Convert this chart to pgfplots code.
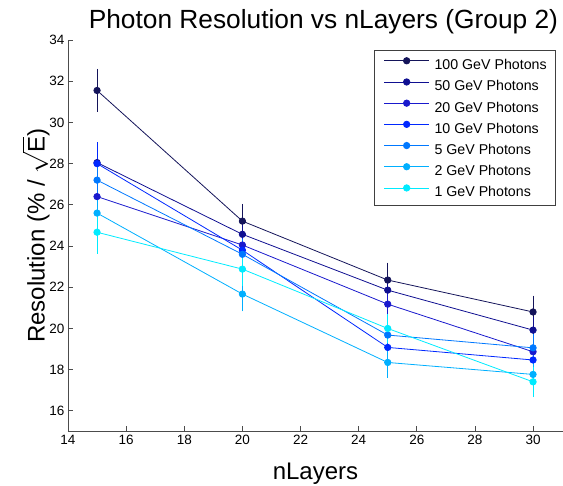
\documentclass[border=0pt]{standalone}
\usepackage{pgfplots}
\pgfplotsset{compat=1.18}
\usepackage{fontspec}
\setmainfont{Liberation Sans}
\definecolor{cA}{RGB}{20,20,90}
\definecolor{cB}{RGB}{15,15,145}
\definecolor{cC}{RGB}{25,25,205}
\definecolor{cD}{RGB}{0,40,255}
\definecolor{cE}{RGB}{0,120,255}
\definecolor{cF}{RGB}{0,175,255}
\definecolor{cG}{RGB}{0,235,255}
\pgfplotsset{
  ser/.style={color=#1, mark=*, mark size=3.2pt, line width=0.8pt,
    error bars/y dir=both, error bars/y explicit,
    error bars/error bar style={line width=0.8pt, color=#1},
    error bars/error mark options={mark size=5pt, line width=0.8pt, color=#1}}
}
\begin{document}
\begin{tikzpicture}
\useasboundingbox (-68pt,-54.5pt) rectangle (495pt,431.5pt);
\begin{axis}[
  at={(0pt,0pt)}, anchor=south west,
  scale only axis, width=495pt, height=391.5pt,
  xmin=14, xmax=31.03, ymin=15, ymax=34,
  axis x line*=bottom, axis y line*=left,
  axis line style={-, black!70, line width=0.8pt},
  xtick={14,16,...,30}, ytick={16,18,...,34},
  tick align=inside, major tick length=5pt,
  every tick/.style={black!70, line width=0.8pt},
  ticklabel style={font=\fontsize{13.5}{14}\selectfont, text=black},
  /pgf/number format/assume math mode=true,
  title={Photon Resolution vs nLayers (Group 2)},
  title style={font=\fontsize{26.3}{30}\selectfont, at={(axis description cs:0.516,1)}, anchor=base, yshift=5pt},
  xlabel={nLayers},
  xlabel style={font=\fontsize{24}{28}\selectfont, at={(axis description cs:0.5,0)}, anchor=base, yshift=-48pt},
  ylabel={Resolution (\% / $\sqrt{\mbox{E}}$)},
  ylabel style={font=\fontsize{24}{28}\selectfont, at={(axis description cs:-0.047,0.5)}, anchor=base},
  legend style={at={(0.986,0.974)}, anchor=north east, draw=black!75, line width=0.8pt, fill=white,
    font=\fontsize{14.2}{16}\selectfont, inner xsep=9pt, inner ysep=7pt, row sep=7.6pt,
    nodes={inner sep=0pt},
    /tikz/every odd column/.append style={column sep=5pt}},
  legend cell align=left,
  legend image code/.code={\draw[mark repeat=2,mark phase=2,#1] plot coordinates {(0pt,4.5pt) (22.5pt,4.5pt) (45pt,4.5pt)};},
]
\addplot[ser=cA] coordinates {(15,31.55) +- (0,0.8) (20,25.21) +- (0,0.6) (25,22.35) +- (0,0.6) (30,20.8) +- (0,0.55)};
\addlegendentry{100 GeV Photons}
\addplot[ser=cB] coordinates {(15,28.05) +- (0,0.5) (20,24.57) +- (0,0.4) (25,21.86) +- (0,0.4) (30,19.92) +- (0,0.4)};
\addlegendentry{50 GeV Photons}
\addplot[ser=cC] coordinates {(15,26.4) +- (0,0.4) (20,24.05) +- (0,0.4) (25,21.18) +- (0,0.5) (30,18.87) +- (0,0.45)};
\addlegendentry{20 GeV Photons}
\addplot[ser=cD] coordinates {(15,28.0) +- (0,0.8) (20,23.8) +- (0,0.5) (25,19.08) +- (0,0.4) (30,18.47) +- (0,0.4)};
\addlegendentry{10 GeV Photons}
\addplot[ser=cE] coordinates {(15,27.2) +- (0,0.5) (20,23.6) +- (0,0.5) (25,19.68) +- (0,0.45) (30,19.06) +- (0,0.45)};
\addlegendentry{5 GeV Photons}
\addplot[ser=cF] coordinates {(15,25.6) +- (0,0.6) (20,21.67) +- (0,0.6) (25,18.35) +- (0,0.5) (30,17.77) +- (0,0.5)};
\addlegendentry{2 GeV Photons}
\addplot[ser=cG] coordinates {(15,24.67) +- (0,0.8) (20,22.88) +- (0,0.6) (25,20.0) +- (0,0.45) (30,17.41) +- (0,0.5)};
\addlegendentry{1 GeV Photons}
\end{axis}
\end{tikzpicture}
\end{document}
